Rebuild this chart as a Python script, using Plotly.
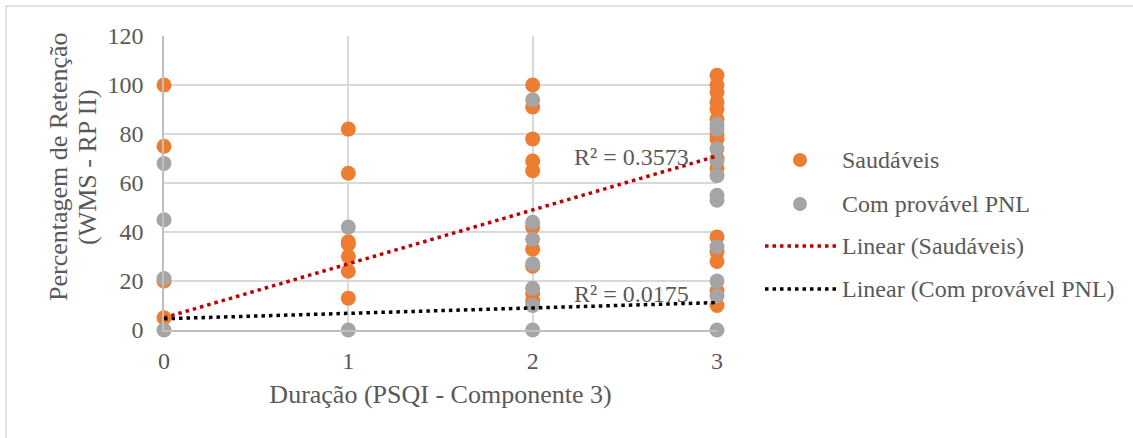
import plotly.graph_objects as go

# Scores per group: x = PSQI component 3 (duration), y = retention percentage
saud_x = [0, 0, 0, 0,
          1, 1, 1, 1, 1, 1, 1,
          2, 2, 2, 2, 2, 2, 2, 2, 2, 2,
          3, 3, 3, 3, 3, 3, 3, 3, 3, 3, 3, 3, 3, 3, 3]
saud_y = [100, 75, 20, 5,
          82, 64, 36, 35, 30, 24, 13,
          100, 91, 78, 69, 65, 42, 33, 26, 15, 12,
          104, 100, 97, 93, 90, 86, 80, 78, 70, 66, 38, 32, 28, 16, 10]

pnl_x = [0, 0, 0, 0,
         1, 1,
         2, 2, 2, 2, 2, 2, 2,
         3, 3, 3, 3, 3, 3, 3, 3, 3, 3, 3]
pnl_y = [68, 45, 21, 0,
         42, 0,
         94, 44, 37, 27, 17, 10, 0,
         84, 82, 74, 69, 63, 55, 53, 34, 20, 14, 0]

# Linear trend coefficients (slope, intercept) and R² labels
trend_saud = (22.0, 5.0)
trend_pnl = (2.2, 4.6)
r2_saud = "R² = 0.3573"
r2_pnl = "R² = 0.0175"

x_ticks = [0, 1, 2, 3]
y_ticks = [0, 20, 40, 60, 80, 100, 120]
y_title_lines = ["Percentagem de Retenção", "(WMS - RP II)"]

ORANGE = "#ED7D31"
GRAY = "#A5A5A5"
RED = "#C00000"
TXT = "#595959"
FONT = "Liberation Serif"
FS = 24
FS_TITLE = 26

fig = go.Figure()

fig.add_trace(go.Scatter(x=saud_x, y=saud_y, mode="markers", name="Saudáveis",
                         marker=dict(color=ORANGE, size=15), cliponaxis=False))
fig.add_trace(go.Scatter(x=pnl_x, y=pnl_y, mode="markers", name="Com provável PNL",
                         marker=dict(color=GRAY, size=15), cliponaxis=False))

tx = [x_ticks[0], x_ticks[-1]]
fig.add_trace(go.Scatter(x=tx, y=[trend_saud[0] * v + trend_saud[1] for v in tx],
                         mode="lines", name="Linear (Saudáveis)",
                         line=dict(color=RED, width=3.5, dash="3.5px,4px"), cliponaxis=False))
fig.add_trace(go.Scatter(x=tx, y=[trend_pnl[0] * v + trend_pnl[1] for v in tx],
                         mode="lines", name="Linear (Com provável PNL)",
                         line=dict(color="black", width=3.5, dash="3.5px,4px"), cliponaxis=False))

# R² labels next to the trend lines
fig.add_annotation(x=2.86, y=70.5, text=r2_saud, showarrow=False, xanchor="right",
                   font=dict(family=FONT, size=FS, color=TXT))
fig.add_annotation(x=2.86, y=14.8, text=r2_pnl, showarrow=False, xanchor="right",
                   font=dict(family=FONT, size=FS, color=TXT))

# Pixel -> paper coordinate helpers (plot area spans x 164..717, y 36..330)
def px_x(p):
    return (p - 164) / 553.0

def px_y(p):
    return (330 - p) / 294.0

# Two-line vertical y-axis title
for line, cx in zip(y_title_lines, [58, 87]):
    fig.add_annotation(xref="paper", yref="paper", x=px_x(cx), y=px_y(167),
                       text=line, showarrow=False, textangle=-90,
                       xanchor="center", yanchor="middle",
                       font=dict(family=FONT, size=FS_TITLE, color=TXT))

# Legend drawn at the right of the plot area
legend_items = [
    ("marker", ORANGE, "Saudáveis", 160),
    ("marker", GRAY, "Com provável PNL", 204),
    ("line", RED, "Linear (Saudáveis)", 246),
    ("line", "black", "Linear (Com provável PNL)", 289),
]
for kind, col, label, yp in legend_items:
    if kind == "marker":
        fig.add_shape(type="circle", xref="paper", yref="paper",
                      x0=px_x(793), x1=px_x(807), y0=px_y(yp + 7), y1=px_y(yp - 7),
                      fillcolor=col, line=dict(width=0))
    else:
        fig.add_shape(type="line", xref="paper", yref="paper",
                      x0=px_x(765), x1=px_x(836), y0=px_y(yp), y1=px_y(yp),
                      line=dict(color=col, width=3.5, dash="3.5px,4px"))
    fig.add_annotation(xref="paper", yref="paper", x=px_x(840), y=px_y(yp),
                       text=label, showarrow=False, xanchor="left", yanchor="middle",
                       font=dict(family=FONT, size=FS, color=TXT))

# Outer chart border
fig.add_shape(type="rect", xref="paper", yref="paper",
              x0=px_x(6), x1=px_x(1145), y0=px_y(450), y1=px_y(6),
              line=dict(color="#D9D9D9", width=1.5), fillcolor="rgba(0,0,0,0)", layer="below")

fig.update_layout(
    width=1133, height=438,
    margin=dict(l=164, r=416, t=36, b=108),
    paper_bgcolor="white", plot_bgcolor="white",
    showlegend=False,
    font=dict(family=FONT, size=FS, color=TXT),
    xaxis=dict(range=[0, 3], tickvals=x_ticks, showgrid=True, gridcolor="#D9D9D9",
               gridwidth=1.5, zeroline=False, showline=True, linecolor="#BFBFBF",
               linewidth=1.5, ticks="", ticklabelstandoff=8,
               title=dict(text="Duração (PSQI - Componente 3)", standoff=12,
                          font=dict(family=FONT, size=FS_TITLE, color=TXT))),
    yaxis=dict(range=[0, 120], tickvals=y_ticks, showgrid=True, gridcolor="#D9D9D9",
               gridwidth=1.5, zeroline=False, showline=True, linecolor="#BFBFBF",
               linewidth=1.5, ticks="", ticklabelstandoff=14),
)

fig.write_html("out.html")
